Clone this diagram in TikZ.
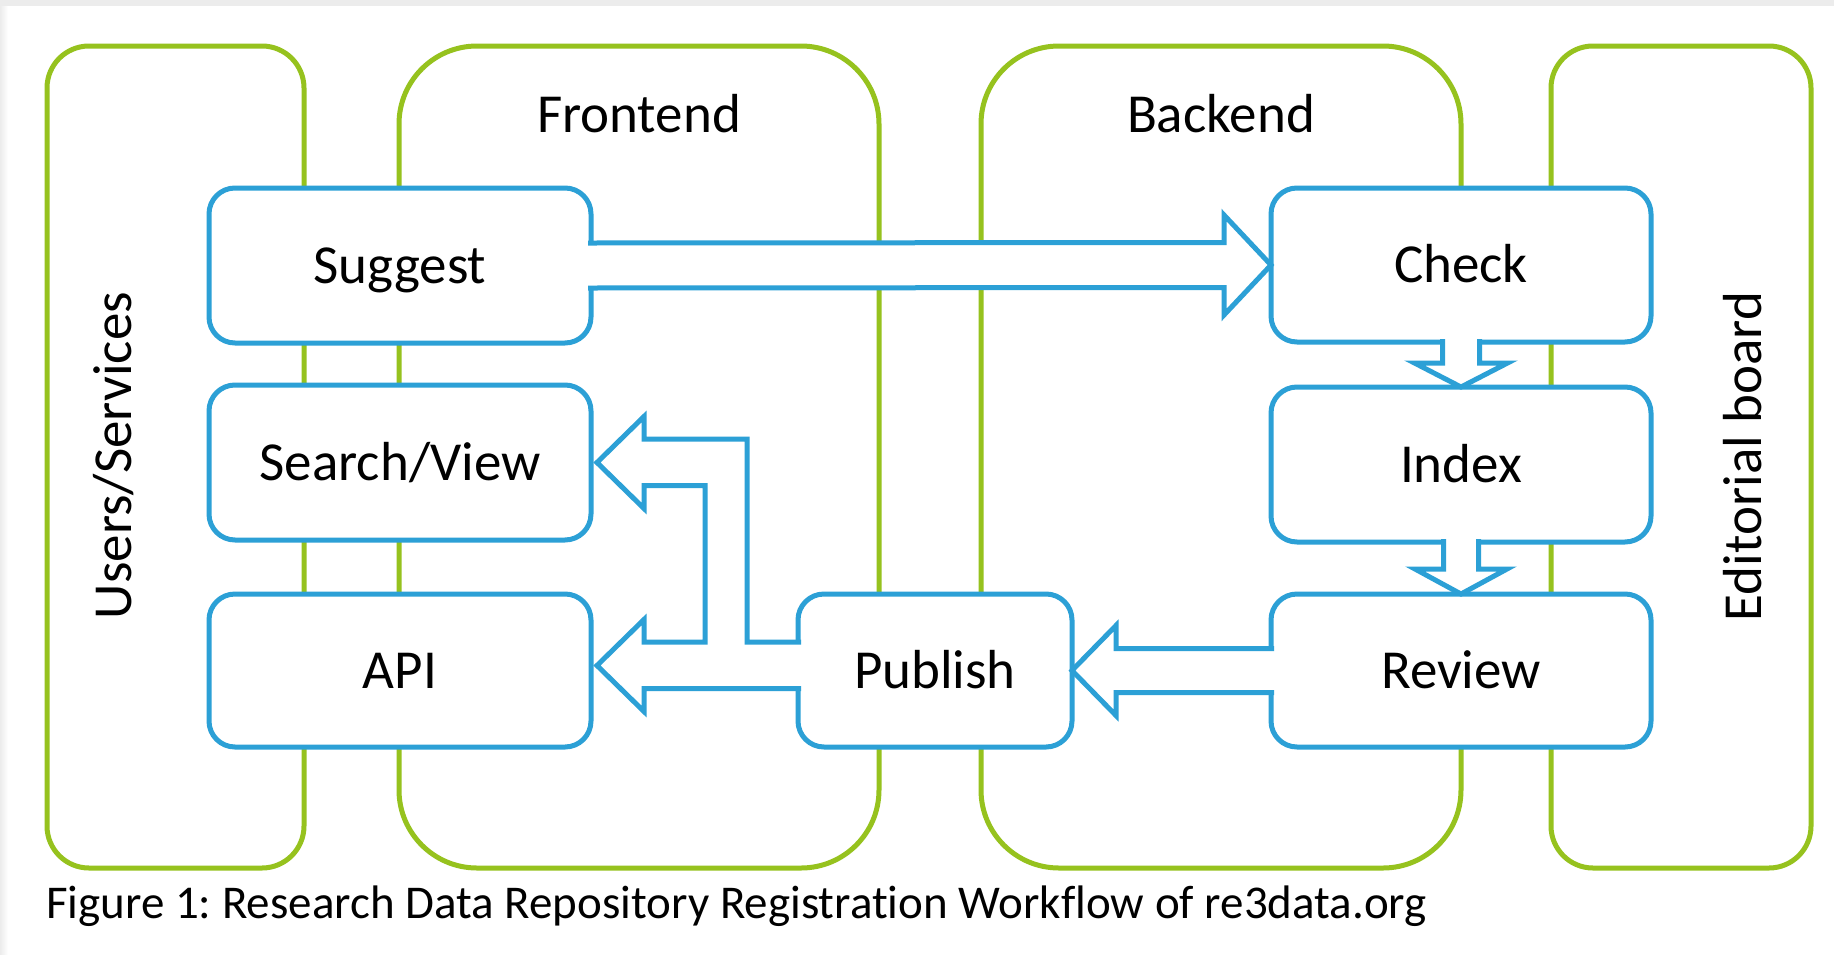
\documentclass[tikz,border=0pt]{standalone}
\usepackage{fontspec}
\setmainfont{Carlito}[Ligatures=NoCommon]
\usetikzlibrary{calc}
\definecolor{grn}{RGB}{150,194,30}
\definecolor{blu}{RGB}{44,160,214}
\definecolor{framegray}{RGB}{236,236,236}
\frenchspacing
\begin{document}
\begin{tikzpicture}[x=1pt,y=-1pt,
  grp/.style={draw=grn, line width=5pt, rectangle, outer sep=0pt, inner sep=0pt, minimum height=822pt},
  blk/.style={draw=blu, fill=white, line width=5pt, rectangle, rounded corners=26pt, outer sep=0pt,
              minimum width=382pt, minimum height=155pt, font=\fontsize{55}{62}\selectfont,
              text height=35pt, text depth=0pt},
  barrow/.style={draw=blu, fill=white, line width=5pt, line join=miter},
  lbl/.style={font=\fontsize{55}{62}\selectfont, inner sep=0pt},
]
% canvas
\fill[white] (0,0) rectangle (1834,954);
\useasboundingbox (0,0) rectangle (1834,954);
\fill[framegray] (0,0) rectangle (1834,6);
\shade[left color=framegray, right color=white] (0,6) rectangle (8,954);

% lanes
\node[grp, rounded corners=42pt, minimum width=257pt] (users) at (175.5,457) {};
\node[grp, rounded corners=78pt, minimum width=480pt] (front) at (639,457) {};
\node[grp, rounded corners=78pt, minimum width=480pt] (back) at (1221,457) {};
\node[grp, rounded corners=42pt, minimum width=260pt] (edit) at (1681,457) {};

\node[lbl, anchor=base] (lfront) at (639,132) {Frontend};
\node[lbl, anchor=base] (lback) at (1221,132) {Backend};
\node[lbl, anchor=base, rotate=90] (lusers) at (131,455.5) {Users/Services};
\node[lbl, anchor=base, rotate=90] (ledit) at (1761,456.5) {Editorial board};

% process boxes
\node[blk] (sug) at (400,265.5) {Suggest};
\node[blk] (srch) at (400,462.5) {Search/View};
\node[blk, minimum height=153pt] (api) at (400,670.5) {API};
\node[blk, minimum width=274pt, minimum height=153pt] (pub) at (935,670.5) {Publish};
\node[blk, minimum width=380pt, minimum height=154pt] (chk) at (1461,265) {Check};
\node[blk, minimum width=380pt] (idx) at (1461,464.5) {Index};
\node[blk, minimum width=380pt, minimum height=153pt] (rev) at (1461,670.5) {Review};

% Suggest -> Check
\path[barrow] ($(sug.east)+(-3,-22.5)$) -- ($(chk.west)+(-47,-22.5)$) -- ($(chk.west)+(-47,-50)$)
  -- (chk.west) -- ($(chk.west)+(-47,50)$) -- ($(chk.west)+(-47,22.5)$) -- ($(sug.east)+(-3,22.5)$);

% Check -> Index
\path[barrow] ($(chk.south)+(-18.5,-3)$) -- ($(idx.north)+(-18.5,-24)$) -- ($(idx.north)+(-46.5,-24)$)
  -- (idx.north) -- ($(idx.north)+(46.5,-24)$) -- ($(idx.north)+(18.5,-24)$) -- ($(chk.south)+(18.5,-3)$);

% Index -> Review
\path[barrow] ($(idx.south)+(-17.5,-3)$) -- ($(rev.north)+(-17.5,-25)$) -- ($(rev.north)+(-46,-25)$)
  -- (rev.north) -- ($(rev.north)+(46,-25)$) -- ($(rev.north)+(17.5,-25)$) -- ($(idx.south)+(17.5,-3)$);

% Review -> Publish
\path[barrow] ($(rev.west)+(3,-22)$) -- ($(pub.east)+(44,-22)$) -- ($(pub.east)+(44,-45)$)
  -- (pub.east) -- ($(pub.east)+(44,45)$) -- ($(pub.east)+(44,22)$) -- ($(rev.west)+(3,22)$);

% Publish -> Search/View and API
\coordinate (tS) at ($(srch.east)+(6,0)$);
\coordinate (tA) at ($(api.east)+(6,-5)$);
\path[barrow] ($(pub.west)+(3,-28.5)$) -- ($(tA)+(150,-23.5)$) -- ($(tS)+(150,-23.5)$)
  -- ($(tS)+(47,-23.5)$) -- ($(tS)+(47,-46)$) -- (tS) -- ($(tS)+(47,46)$) -- ($(tS)+(47,23)$)
  -- ($(tS)+(108,23)$) -- ($(tA)+(108,-23.5)$) -- ($(tA)+(47,-23.5)$) -- ($(tA)+(47,-46)$)
  -- (tA) -- ($(tA)+(47,46)$) -- ($(tA)+(47,23)$) -- ($(pub.west)+(3,18)$);

% caption
\node[anchor=base west, inner sep=0pt, font=\fontsize{47}{56}\selectfont] (cap) at (46,918)
  {Figure 1: Research Data Repository Registration Workflow of re3data.org};
\end{tikzpicture}
\end{document}
